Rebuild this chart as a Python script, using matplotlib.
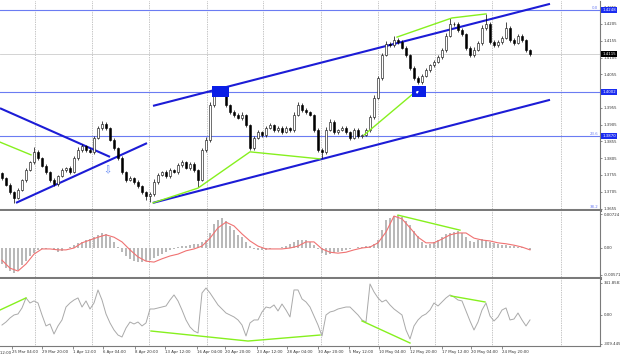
import matplotlib
matplotlib.use("Agg")
import matplotlib.pyplot as plt
import matplotlib.transforms as mtransforms
import numpy as np

# ---- H4 candles (close), wick sizes in pips ----
closes = [
    1.3746, 1.3725, 1.3704, 1.3687, 1.3710, 1.3740, 1.3770, 1.3794, 1.3824, 1.3806,
    1.3782, 1.3764, 1.3740, 1.3728, 1.3752, 1.3770, 1.3776, 1.3764, 1.3806, 1.3830,
    1.3841, 1.3830, 1.3824, 1.3865, 1.3895, 1.3907, 1.3895, 1.3859, 1.3835, 1.3806,
    1.3764, 1.3740, 1.3746, 1.3734, 1.3722, 1.3704, 1.3692, 1.3698, 1.3734, 1.3755,
    1.3764, 1.3752, 1.3770, 1.3764, 1.3785, 1.3794, 1.3776, 1.3788, 1.3770, 1.3740,
    1.3830, 1.3859, 1.3964, 1.4008, 1.4002, 1.3993, 1.3964, 1.3943, 1.3934, 1.3925,
    1.3934, 1.3904, 1.3835, 1.3865, 1.3883, 1.3874, 1.3895, 1.3904, 1.3889, 1.3895,
    1.3883, 1.3895, 1.3889, 1.3934, 1.3964, 1.3949, 1.3943, 1.3934, 1.3889, 1.3830,
    1.3824, 1.3889, 1.3913, 1.3883, 1.3889, 1.3895, 1.3883, 1.3865, 1.3889, 1.3871,
    1.3874, 1.3889, 1.3928, 1.3985, 1.4044, 1.4113, 1.4145, 1.4142, 1.4157, 1.4151,
    1.4134, 1.4113, 1.4074, 1.4044, 1.4032, 1.4050, 1.4068, 1.4083, 1.4092, 1.4107,
    1.4128, 1.4169, 1.4205, 1.4205, 1.4187, 1.4175, 1.4134, 1.4113, 1.4128, 1.4148,
    1.4193, 1.4205, 1.4151, 1.4142, 1.4151, 1.4163, 1.4193, 1.4157, 1.4148, 1.4169,
    1.4157, 1.4128, 1.4116,
]
first_open = 1.3760
wick_up = [
    4, 3, 5, 3, 6, 4, 5, 4, 14, 5,
    3, 6, 4, 5, 3, 7, 4, 5, 6, 8,
    5, 4, 6, 7, 5, 10, 6, 4, 5, 3,
    6, 4, 5, 3, 7, 4, 3, 5, 8, 6,
    4, 5, 6, 3, 5, 7, 4, 6, 5, 4,
    5, 8, 10, 9, 6, 5, 7, 4, 6, 5,
    8, 4, 3, 6, 5, 4, 7, 5, 4, 6,
    5, 6, 4, 8, 9, 6, 5, 4, 3, 5,
    4, 8, 9, 5, 4, 6, 5, 4, 6, 5,
    4, 5, 6, 8, 7, 6, 8, 5, 12, 7,
    5, 6, 4, 5, 6, 7, 5, 4, 6, 5,
    6, 8, 18, 7, 6, 5, 4, 6, 7, 5,
    8, 30, 6, 5, 7, 6, 18, 5, 6, 7,
    5, 4, 3,
]
wick_dn = [
    5, 4, 6, 15, 5, 4, 6, 4, 5, 6,
    4, 5, 6, 7, 5, 4, 6, 5, 4, 6,
    5, 6, 4, 5, 4, 6, 5, 4, 6, 5,
    6, 5, 4, 6, 5, 7, 11, 18, 6, 5,
    4, 6, 5, 4, 6, 5, 4, 6, 5, 20,
    4, 5, 6, 5, 6, 4, 5, 6, 5, 4,
    6, 5, 5, 6, 4, 5, 6, 4, 5, 6,
    5, 4, 6, 5, 4, 6, 5, 4, 6, 5,
    18, 5, 4, 6, 5, 4, 6, 5, 4, 6,
    5, 4, 6, 7, 5, 6, 4, 5, 6, 5,
    4, 6, 5, 6, 6, 5, 4, 6, 5, 4,
    5, 6, 4, 5, 6, 5, 7, 6, 5, 4,
    6, 5, 7, 5, 6, 5, 4, 6, 5, 4,
    6, 7, 5,
]

# ---- MACD (histogram per bar, signal every 2nd bar) ----
macd_hist = [
    -.0034, -.0043, -.0049, -.0053, -.0047, -.0036, -.0028, -.0017, -.0011, -.0004,
    -.0002, -.0002, 0, -.0004, -.0009, -.0006, 0, .0002, .0006, .0011,
    .0013, .0017, .0019, .0023, .0028, .0032, .0030, .0023, .0013, .0002,
    -.0009, -.0017, -.0023, -.0028, -.0030, -.0030, -.0028, -.0026, -.0021, -.0017,
    -.0013, -.0009, -.0004, -.0002, .0002, .0004, .0004, .0006, .0009, .0009,
    .0013, .0017, .0032, .0051, .0060, .0064, .0058, .0047, .0038, .0028,
    .0023, .0013, .0004, -.0002, -.0004, -.0004, -.0004, -.0002, 0, 0,
    .0002, .0004, .0009, .0013, .0017, .0017, .0017, .0013, .0006, -.0002,
    -.0011, -.0015, -.0013, -.0011, -.0009, -.0006, -.0004, -.0002, 0, .0002,
    .0002, .0004, .0004, .0009, .0017, .0038, .0060, .0064, .0068, .0070,
    .0066, .0058, .0049, .0036, .0026, .0013, .0006, .0009, .0013, .0017,
    .0023, .0030, .0032, .0034, .0036, .0032, .0023, .0015, .0013, .0017,
    .0019, .0015, .0013, .0011, .0009, .0006, .0006, .0004, .0004, .0002,
    .0002, 0, -.0004,
]
macd_signal = [
    -.0026, -.0043, -.0049, -.0034, -.0013, -.0002, -.0002, -.0004, -.0004, 0,
    .0011, .0017, .0023, .0028, .0023, .0013, -.0004, -.0019, -.0028, -.0030,
    -.0023, -.0017, -.0013, -.0006, -.0002, .0004, .0021, .0043, .0055, .0047,
    .0030, .0015, .0004, -.0002, -.0002, -.0002, 0, .0004, .0013, .0013,
    -.0002, -.0009, -.0011, -.0009, -.0004, 0, .0002, .0011, .0034, .0068,
    .0062, .0043, .0023, .0011, .0011, .0019, .0028, .0032, .0032, .0021,
    .0017, .0015, .0011, .0009, .0006, .0002, -.0004,
]

# ---- CCI ----
cci = [
    -107, -75, -32, 0, 11, 75, 182, 128, 150, 128,
    0, -117, -96, -203, -117, -53, 85, 128, 160, 182,
    85, 150, 64, 128, 267, 160, 11, -85, -160, -214,
    -235, -139, -75, -96, -75, -117, -85, 64, 64, 75,
    85, 96, 160, 214, 150, 53, -53, -128, -171, -192,
    235, 288, 235, 171, 107, 64, 21, 0, -21, -53,
    -107, -224, -85, -53, -53, 32, 85, 75, 107, 43,
    117, 53, -21, 267, 267, 171, 139, 85, -11, -107,
    -224, 0, 32, 43, 64, 75, 85, 85, 43, 0,
    -53, -75, 331, 246, 182, 139, 160, 107, 64, 32,
    0, -160, -256, -117, -53, -11, 11, 53, 128, 96,
    139, 182, 214, 192, 160, 150, 43, -64, -160, -75,
    53, 128, -11, -64, -21, 53, 75, -53, -43, 21,
    -53, -117, -53,
]

# ---- axis labels / levels ----
price_ticks = [1.4255, 1.4205, 1.4155, 1.4105, 1.4055, 1.3955, 1.3905,
               1.3855, 1.3805, 1.3755, 1.3705, 1.3655]
levels = [1.4248, 1.4002, 1.3870]
last_price = 1.4115
fib_marks = [(1.4248, "0.0"), (1.3870, "23.6"), (1.3655, "38.2")]
macd_ticks = [0.00724, 0.0, -0.00571]
macd_labels = ["0.00724", "0.00", "-0.00571"]
cci_ticks = [341.8583, 0.0, -309.4457]
cci_labels = ["341.8583", "0.00", "-309.4457"]
time_pos = [2.5, 10, 17.75, 25.25, 33.25, 40.75, 48.75, 55.75, 63.75, 71.25,
            79, 86.75, 94.25, 102, 110, 117.25, 125]
time_labels = ["25 Mar 04:00", "29 Mar 20:00", "1 Apr 12:00", "6 Apr 04:00",
               "8 Apr 20:00", "13 Apr 12:00", "16 Apr 04:00", "20 Apr 20:00",
               "23 Apr 12:00", "28 Apr 04:00", "30 Apr 20:00", "5 May 12:00",
               "10 May 04:00", "12 May 20:00", "17 May 12:00", "20 May 04:00",
               "24 May 20:00"]
grid_bars = [8.25, 22.5, 36.75, 51.25, 65.25, 79.75, 94, 108.25, 122.5, 139.75]

# ---- drawings (bar index, value) ----
trend_lines = [
    [(-0.5, 1.3954), (27, 1.3809)],
    [(3.5, 1.3672), (36.25, 1.3850)],
    [(37.75, 1.3961), (137, 1.4265)],
    [(37.75, 1.3672), (137, 1.3979)],
]
green_main = [
    [(-0.5, 1.3853), (7.25, 1.3815)],
    [(37.75, 1.3672), (49, 1.3716), (62, 1.3824), (79.5, 1.3803)],
    [(90.5, 1.3874), (104.75, 1.4017)],
    [(98.75, 1.4166), (112.5, 1.4223), (121, 1.4235)],
]
green_macd = [[(99, 0.0070), (114.5, 0.0038)]]
green_cci = [
    [(-0.5, 53), (6, 182)],
    [(37.25, -171), (61.5, -278), (79.5, -214)],
    [(90, -64), (102, -299)],
    [(112.25, 203), (120.75, 139)],
]
boxes = [(52.5, 56.75), (102.5, 106)]
box_lo, box_hi = 1.3987, 1.4020

FS = 2.8
BLUE_LINE = "#6b7cf2"
TREND = "#1c1cd6"
LIME = "#86f01e"
GRID = "#8c8c8c"

fig = plt.figure(figsize=(6.2, 3.57), dpi=100)
W, H = 620, 357
ax = fig.add_axes([0, 1 - 210 / H, 600 / W, 209 / H])
axm = fig.add_axes([0, 1 - 278 / H, 600 / W, 67 / H], sharex=ax)
axc = fig.add_axes([0, 1 - 346 / H, 600 / W, 67 / H], sharex=ax)

n = len(closes)
idx = np.arange(n)
c = np.array(closes)
o = np.array([first_open] + closes[:-1])
top = np.maximum(o, c)
bot = np.minimum(o, c)
hi = top + np.array(wick_up) * 1e-4
lo = bot - np.array(wick_dn) * 1e-4

for a in (ax, axm, axc):
    a.set_xlim(-0.5, 149.5)
    for g in grid_bars:
        a.axvline(g, color=GRID, lw=0.5, ls=(0, (1, 1.5)), zorder=0)
    for s in ("top", "left"):
        a.spines[s].set_visible(False)
    a.spines["right"].set_color("#7a7a7a")
    a.spines["right"].set_linewidth(0.8)
    a.spines["bottom"].set_color("#7a7a7a")
    a.yaxis.tick_right()
    a.tick_params(axis="y", length=1.5, width=0.4, pad=1, labelsize=FS,
                  colors="#333333")
    a.tick_params(axis="x", length=0, labelbottom=False)

# main panel
ax.set_ylim(1.36507, 1.42735)
for lv in levels:
    ax.axhline(lv, color=BLUE_LINE, lw=0.8, zorder=1)
ax.axhline(last_price, color="#cccccc", lw=0.6, zorder=1)
for seg in trend_lines:
    xs, ys = zip(*seg)
    ax.plot(xs, ys, color=TREND, lw=1.5, zorder=2, solid_capstyle="butt")
for seg in green_main:
    xs, ys = zip(*seg)
    ax.plot(xs, ys, color=LIME, lw=1.0, zorder=4)

ax.vlines(idx, lo, hi, color="black", lw=0.5, zorder=3)
up = c >= o
ax.bar(idx[up], (c - o)[up], bottom=o[up], width=0.55, color="white",
       edgecolor="black", lw=0.4, zorder=3)
ax.bar(idx[~up], (o - c)[~up], bottom=c[~up], width=0.55, color="black",
       edgecolor="black", lw=0.4, zorder=3)

for x0, x1 in boxes:
    ax.fill_between([x0, x1], box_lo, box_hi, color="#0a1ee6", zorder=5, lw=0)
ax.annotate("", xy=(104.6, 1.4013), xytext=(103.2, 1.3993),
            arrowprops=dict(arrowstyle="-|>", color="white", lw=0.6,
                            mutation_scale=3), zorder=6)
ax.text(26.25, 1.3770, "\u21e9", color="#5f86f5", fontsize=7, ha="center",
        va="center", zorder=5)

ax.set_yticks(price_ticks)
ax.set_yticklabels([f"{p:.4f}" for p in price_ticks])
ax.spines["bottom"].set_linewidth(2.2)

tr = mtransforms.blended_transform_factory(ax.transAxes, ax.transData)
for lv in levels:
    ax.text(1.004, lv, f"{lv:.4f}", transform=tr, fontsize=FS, color="white",
            va="center", ha="left", zorder=10,
            bbox=dict(boxstyle="square,pad=0.25", fc="#1a2cf0", ec="none"))
ax.text(1.004, last_price, f"{last_price:.4f}", transform=tr, fontsize=FS,
        color="white", va="center", ha="left", zorder=10,
        bbox=dict(boxstyle="square,pad=0.25", fc="black", ec="none"))
for lv, lab in fib_marks:
    ax.text(0.997, lv, lab, transform=tr, fontsize=FS, color=BLUE_LINE,
            va="bottom", ha="right")

# MACD panel
axm.set_ylim(-0.00639, 0.00788)
axm.bar(idx, macd_hist, width=0.45, color="#b9b9b9", zorder=2)
axm.plot(np.arange(0, n, 2), macd_signal, color="#f07272", lw=0.8, zorder=3)
for seg in green_macd:
    xs, ys = zip(*seg)
    axm.plot(xs, ys, color=LIME, lw=1.0, zorder=4)
axm.set_yticks(macd_ticks)
axm.set_yticklabels(macd_labels)
axm.spines["bottom"].set_linewidth(2.2)

# CCI panel
axc.set_ylim(-331, 384)
axc.plot(idx, cci, color="#a9a9a9", lw=0.7, zorder=2)
for seg in green_cci:
    xs, ys = zip(*seg)
    axc.plot(xs, ys, color=LIME, lw=1.0, zorder=4)
axc.set_yticks(cci_ticks)
axc.set_yticklabels(cci_labels)
axc.spines["bottom"].set_linewidth(0.8)
axc.set_xticks(time_pos)
axc.set_xticklabels(time_labels)
axc.tick_params(axis="x", length=2, width=0.4, pad=1, labelsize=FS,
                labelbottom=True, colors="#333333")
for lbl in axc.get_xticklabels():
    lbl.set_ha("left")
axc.text(-4.2, -0.075, "22 Mar 12:00", transform=mtransforms.blended_transform_factory(
    axc.transData, axc.transAxes), fontsize=FS, color="#333333", ha="left",
    va="top", clip_on=False)

fig.savefig("out.png", dpi=100, facecolor="white")
